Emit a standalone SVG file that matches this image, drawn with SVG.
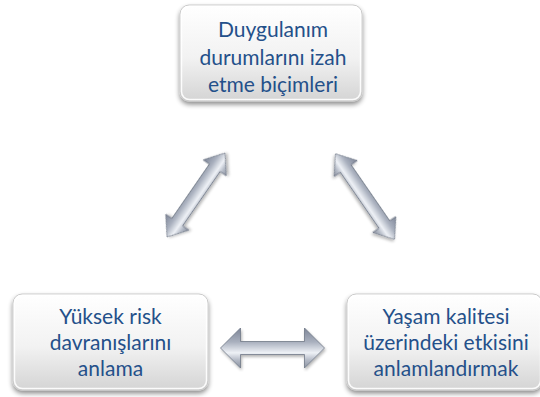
<svg xmlns="http://www.w3.org/2000/svg" width="540" height="397" viewBox="0 0 540 397">
<defs>
<linearGradient id="boxFill" x1="0" y1="0" x2="0" y2="1">
<stop offset="0" stop-color="#ffffff"/>
<stop offset="0.55" stop-color="#f2f2f2"/>
<stop offset="1" stop-color="#d4d4d4"/>
</linearGradient>
<linearGradient id="arrowFill" x1="0" y1="0" x2="0" y2="1">
<stop offset="0" stop-color="#7d8597"/>
<stop offset="0.35" stop-color="#a9b0be"/>
<stop offset="0.62" stop-color="#eef1f6"/>
<stop offset="0.8" stop-color="#b4bac6"/>
<stop offset="1" stop-color="#8a91a0"/>
</linearGradient>
<filter id="shadow" x="-10%" y="-10%" width="120%" height="130%">
<feGaussianBlur in="SourceAlpha" stdDeviation="2.5"/>
<feOffset dx="0" dy="3" result="b"/>
<feComponentTransfer><feFuncA type="linear" slope="0.45"/></feComponentTransfer>
<feMerge><feMergeNode/><feMergeNode in="SourceGraphic"/></feMerge>
</filter>
<filter id="ashadow" x="-20%" y="-30%" width="140%" height="160%">
<feGaussianBlur in="SourceAlpha" stdDeviation="1.5"/>
<feOffset dx="1" dy="2" result="b"/>
<feComponentTransfer><feFuncA type="linear" slope="0.3"/></feComponentTransfer>
<feMerge><feMergeNode/><feMergeNode in="SourceGraphic"/></feMerge>
</filter>
</defs>
<style>
.box{fill:url(#boxFill);stroke:#c9c9c9;stroke-width:1;filter:url(#shadow);}
.bevel{fill:none;stroke:#ffffff;stroke-width:1.5;opacity:0.9;}
.lbl{font-family:Lato,"Liberation Sans",sans-serif;font-size:21px;fill:#24508a;text-anchor:middle;}
.arrow{fill:url(#arrowFill);stroke:#6f7786;stroke-width:0.8;filter:url(#ashadow);}
</style>
<rect width="540" height="397" fill="#ffffff"/>
<g id="connectors">
<path class="arrow" transform="translate(196,195) rotate(-55.4)" d="M-51,0 L-33,-14 L-33,-6.5 L33,-6.5 L33,-14 L51,0 L33,14 L33,6.5 L-33,6.5 L-33,14 Z"/>
<path class="arrow" transform="translate(365,196.5) rotate(55.4)" d="M-52,0 L-34,-14 L-34,-6.5 L34,-6.5 L34,-14 L52,0 L34,14 L34,6.5 L-34,6.5 L-34,14 Z"/>
<path class="arrow" transform="translate(272.5,348)" d="M-52,0 L-32,-20 L-32,-6.5 L32,-6.5 L32,-20 L52,0 L32,20 L32,6.5 L-32,6.5 L-32,20 Z"/>
</g>
<g id="node-top">
<rect class="box" x="180" y="5" width="182" height="96" rx="9"/>
<rect class="bevel" x="181.5" y="6.5" width="179" height="93" rx="8"/>
<text class="lbl" x="273" y="37">Duygulanım</text>
<text class="lbl" x="273" y="65">durumlarını izah</text>
<text class="lbl" x="273" y="92">etme biçimleri</text>
</g>
<g id="node-left">
<rect class="box" x="13" y="294" width="195" height="96" rx="9"/>
<rect class="bevel" x="14.5" y="295.5" width="192" height="93" rx="8"/>
<text class="lbl" x="110.5" y="324">Yüksek risk</text>
<text class="lbl" x="110.5" y="350">davranışlarını</text>
<text class="lbl" x="110.5" y="376">anlama</text>
</g>
<g id="node-right">
<rect class="box" x="347" y="294" width="195" height="96" rx="9"/>
<rect class="bevel" x="348.5" y="295.5" width="192" height="93" rx="8"/>
<text class="lbl" x="446" y="324">Yaşam kalitesi</text>
<text class="lbl" x="446" y="350">üzerindeki etkisini</text>
<text class="lbl" x="446" y="376">anlamlandırmak</text>
</g>
</svg>
